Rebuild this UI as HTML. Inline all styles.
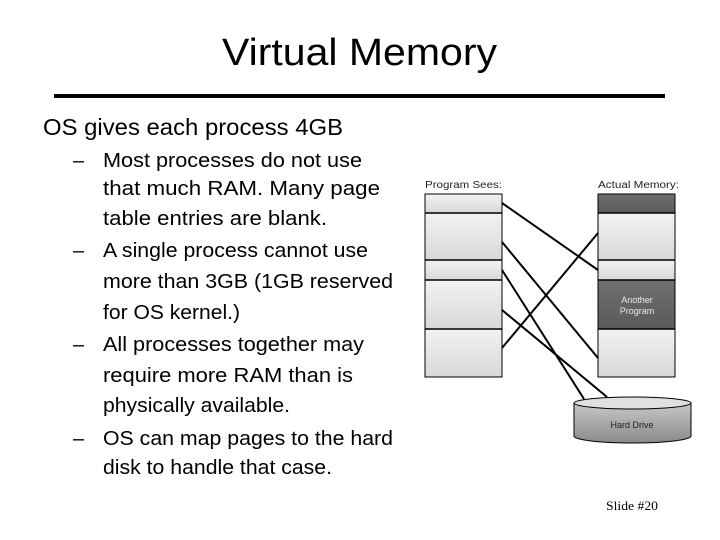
<!DOCTYPE html>
<html><head><meta charset="utf-8"><style>
html,body{margin:0;padding:0;background:#fff;}
svg{display:block;}
</style></head><body>
<svg width="720" height="540" viewBox="0 0 720 540" xmlns="http://www.w3.org/2000/svg" font-family="Liberation Sans, sans-serif">
<defs>
<linearGradient id="lg" x1="0" y1="0" x2="0" y2="1">
<stop offset="0" stop-color="#f2f2f2"/><stop offset="1" stop-color="#d8d8d8"/></linearGradient>
<linearGradient id="dg" x1="0" y1="0" x2="0" y2="1">
<stop offset="0" stop-color="#707070"/><stop offset="1" stop-color="#5a5a5a"/></linearGradient>
<linearGradient id="hg" x1="0" y1="0" x2="0" y2="1">
<stop offset="0" stop-color="#c8c8c8"/><stop offset="1" stop-color="#8a8a8a"/></linearGradient>
</defs>
<text x="222" y="65" font-size="38" textLength="275" lengthAdjust="spacingAndGlyphs">Virtual Memory</text>
<rect x="54" y="94" width="611" height="4" fill="#000"/>
<text x="43" y="135" font-size="23" textLength="300" lengthAdjust="spacingAndGlyphs">OS gives each process 4GB</text>
<g font-size="20">
<text x="73" y="167">–</text>
<text x="103" y="167" textLength="259" lengthAdjust="spacingAndGlyphs">Most processes do not use</text>
<text x="103" y="195" textLength="277" lengthAdjust="spacingAndGlyphs">that much RAM.  Many page</text>
<text x="103" y="225" textLength="224" lengthAdjust="spacingAndGlyphs">table entries are blank.</text>
<text x="73" y="257">–</text>
<text x="103" y="257" textLength="265" lengthAdjust="spacingAndGlyphs">A single process cannot use</text>
<text x="103" y="288" textLength="290" lengthAdjust="spacingAndGlyphs">more than 3GB (1GB reserved</text>
<text x="103" y="319" textLength="137" lengthAdjust="spacingAndGlyphs">for OS kernel.)</text>
<text x="73" y="351">–</text>
<text x="103" y="351" textLength="261" lengthAdjust="spacingAndGlyphs">All processes together may</text>
<text x="103" y="382" textLength="250" lengthAdjust="spacingAndGlyphs">require more RAM than is</text>
<text x="103" y="412" textLength="187" lengthAdjust="spacingAndGlyphs">physically available.</text>
<text x="73" y="445">–</text>
<text x="103" y="445" textLength="290" lengthAdjust="spacingAndGlyphs">OS can map pages to the hard</text>
<text x="103" y="474" textLength="229" lengthAdjust="spacingAndGlyphs">disk to handle that case.</text>
</g>
<g font-size="10" fill="#222">
<text x="425" y="188" textLength="77" lengthAdjust="spacingAndGlyphs">Program Sees:</text>
<text x="598" y="188" textLength="81" lengthAdjust="spacingAndGlyphs">Actual Memory:</text>
</g>
<g stroke="#000" stroke-width="1">
<rect x="425" y="194" width="77" height="19" fill="url(#lg)"/>
<rect x="425" y="213" width="77" height="47" fill="url(#lg)"/>
<rect x="425" y="260" width="77" height="20" fill="url(#lg)"/>
<rect x="425" y="280" width="77" height="49" fill="url(#lg)"/>
<rect x="425" y="329" width="77" height="48" fill="url(#lg)"/>
<rect x="598" y="194" width="77" height="19" fill="url(#dg)"/>
<rect x="598" y="213" width="77" height="47" fill="url(#lg)"/>
<rect x="598" y="260" width="77" height="20" fill="url(#lg)"/>
<rect x="598" y="280" width="77" height="49" fill="url(#dg)"/>
<rect x="598" y="329" width="77" height="48" fill="url(#lg)"/>
</g>
<g stroke="#000" stroke-width="1.5">
<line x1="425" y1="213" x2="502" y2="213"/><line x1="425" y1="260" x2="502" y2="260"/>
<line x1="425" y1="280" x2="502" y2="280"/><line x1="425" y1="329" x2="502" y2="329"/>
<line x1="598" y1="213" x2="675" y2="213"/><line x1="598" y1="260" x2="675" y2="260"/>
<line x1="598" y1="280" x2="675" y2="280"/><line x1="598" y1="329" x2="675" y2="329"/>
</g>
<g font-size="9" fill="#e8e8e8" text-anchor="middle">
<text x="637" y="303">Another</text>
<text x="637" y="314">Program</text>
</g>
<path d="M574 403 L574 436 A58.5 7 0 0 0 691 436 L691 403 Z" fill="url(#hg)" stroke="#000" stroke-width="1"/>
<ellipse cx="632.5" cy="403" rx="58.5" ry="6" fill="#e0e0e0" stroke="#000" stroke-width="1"/>
<text x="632" y="428" font-size="9" fill="#222" text-anchor="middle">Hard Drive</text>
<g stroke="#000" stroke-width="2">
<line x1="502" y1="203" x2="598" y2="270"/>
<line x1="502" y1="242" x2="598" y2="358"/>
<line x1="502" y1="270" x2="584" y2="399"/>
<line x1="502" y1="310" x2="607" y2="397"/>
<line x1="502" y1="348" x2="598" y2="233"/>
</g>
<text x="606" y="510" font-size="13" font-family="Liberation Serif, serif" textLength="52" lengthAdjust="spacingAndGlyphs">Slide #20</text>
</svg>
</body></html>
